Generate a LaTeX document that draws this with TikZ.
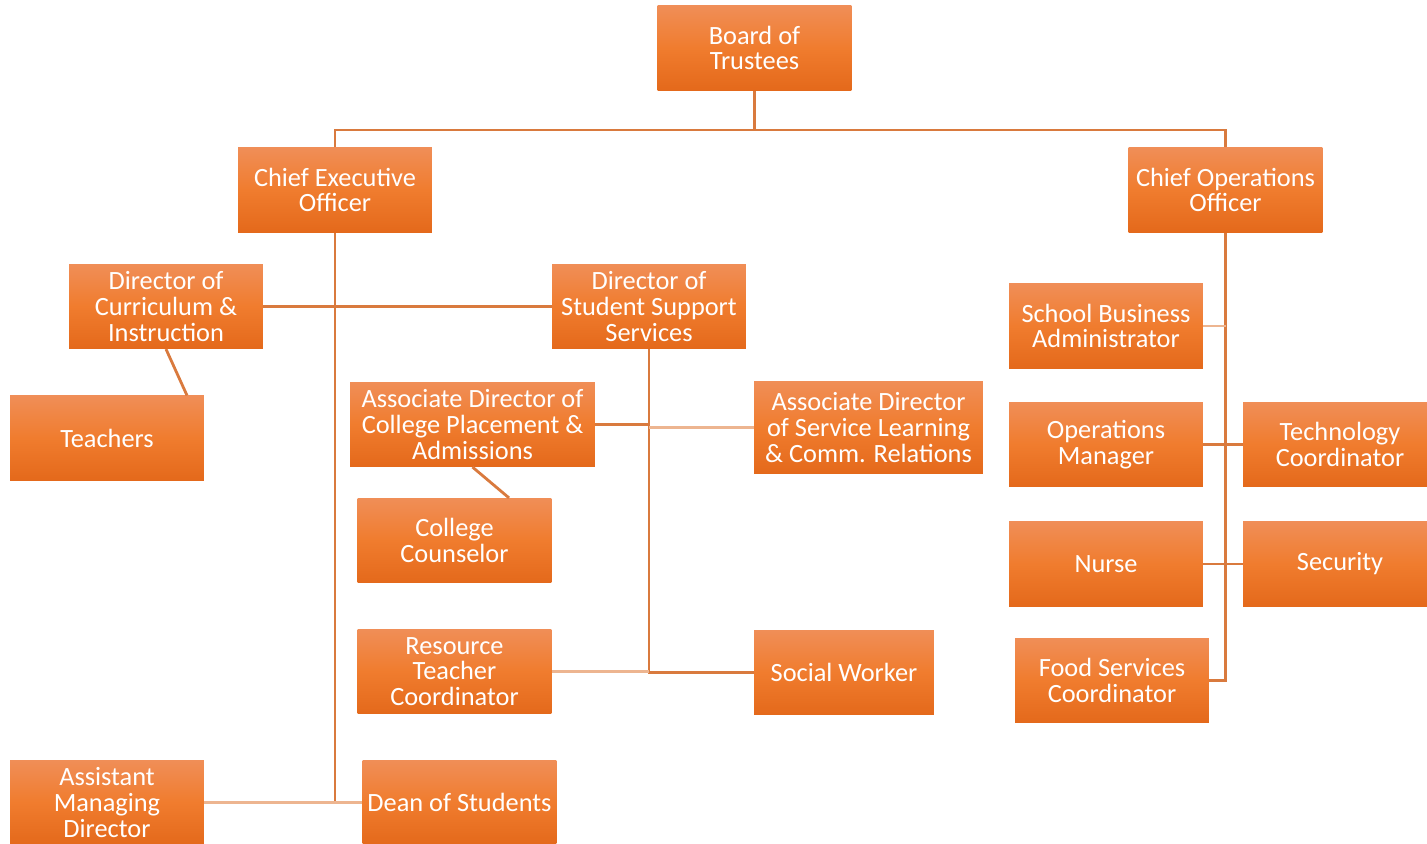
\documentclass[tikz,border=0pt]{standalone}
\usepackage{fontspec}
\setmainfont{Carlito}
\usepackage{tikz}
\definecolor{boxtop}{HTML}{F08E57}
\definecolor{boxmid}{HTML}{F07C2E}
\definecolor{boxbot}{HTML}{E4691B}
\definecolor{linedark}{HTML}{D97A3E}
\definecolor{linelight}{HTML}{EDB590}

\begin{document}
\begin{tikzpicture}[x=0.02cm,y=-0.02cm,
	post/.style={top color=boxtop,bottom color=boxbot,middle color=boxmid,
		text=white,align=center,inner sep=0pt,
		minimum width=3.88cm,minimum height=1.69cm,
		font=\fontsize{15}{14.6}\selectfont},
	link/.style={draw=linedark,line width=1.6pt},
	linkl/.style={draw=linelight,line width=1.6pt}]
	\useasboundingbox (0,0) rectangle (1427,844);
	\node[post] (bot) at (754.5,48) {Board of\\Trustees};
	\node[post] (ceo) at (335,190) {Chief Executive\\Officer};
	\node[post] (coo) at (1225.5,190) {Chief Operations\\Officer};
	\node[post] (dci) at (166,306.5) {Director of\\Curriculum \&\\Instruction};
	\node[post] (dss) at (649,306.5) {Director of\\Student Support\\Services};
	\node[post] (tea) at (107,438) {Teachers};
	\node[post,minimum width=4.9cm] (acp) at (472.5,424.5) {Associate Director of\\College Placement \&\\Admissions};
	\node[post,minimum width=4.58cm,minimum height=1.86cm] (asl) at (868.5,427.5) {Associate Director\\of Service Learning\\\& Comm. Relations};
	\node[post] (cc) at (454.5,540.5) {College\\Counselor};
	\node[post] (rtc) at (454.5,671.5) {Resource\\Teacher\\Coordinator};
	\node[post,minimum width=3.6cm] (sw) at (844,672.5) {Social Worker};
	\node[post] (amd) at (107,802.5) {Assistant\\Managing\\Director};
	\node[post] (dos) at (459.5,802.5) {Dean of Students};
	\node[post] (sba) at (1106,326) {School Business\\Administrator};
	\node[post] (opm) at (1106,444.5) {Operations\\Manager};
	\node[post] (tec) at (1340,444.5) {Technology\\Coordinator};
	\node[post] (nur) at (1106,564) {Nurse};
	\node[post] (sec) at (1340,564) {Security};
	\node[post] (fsc) at (1112,680.5) {Food Services\\Coordinator};
	\coordinate (top) at (754.5,130);

	\draw[link] (bot.south) -- (top);
	\draw[link] (ceo.north) |- (top) -| (coo.north);
	\draw[link] (ceo.south) -- (ceo.south |- dos.west);
	\draw[linkl] (amd.east) -- (dos.west);
	\draw[link] (dci.east) -- (dss.west);
	\draw[link] (dci.south) -- ([xshift=1.6cm]tea.north);
	\draw[link] (dss.south) |- (sw.west);
	\draw[link] (acp.east) -- (acp.east -| dss.south);
	\draw[linkl] (asl.west) -- (asl.west -| dss.south);
	\draw[link] (acp.south) -- ([xshift=1.09cm]cc.north);
	\draw[linkl] (rtc.east) -- (rtc.east -| dss.south);
	\draw[link] (coo.south) |- (fsc.east);
	\draw[linkl] (sba.east) -- (sba.east -| coo.south);
	\draw[link] (opm.east) -- (tec.west);
	\draw[link] (nur.east) -- (sec.west);
\end{tikzpicture}
\end{document}
